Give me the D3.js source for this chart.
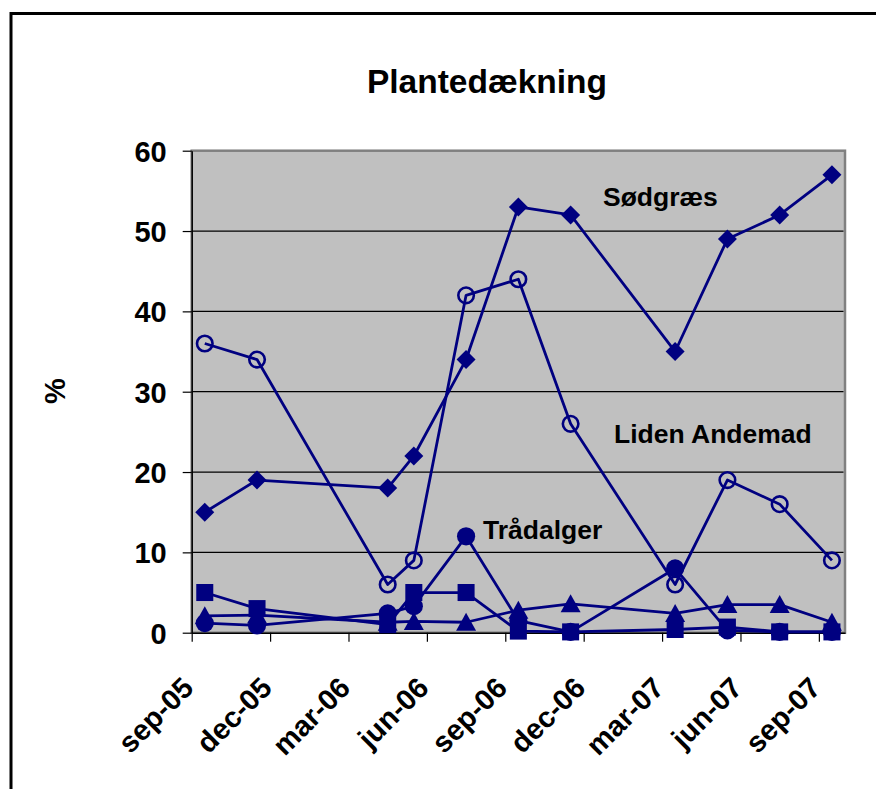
<!DOCTYPE html>
<html>
<head>
<meta charset="utf-8">
<script src="https://cdn.jsdelivr.net/npm/d3@7"></script>
<style>
  html, body { margin: 0; padding: 0; background: #fff; }
  svg { display: block; }
  text { font-family: "Liberation Sans", Arial, sans-serif; font-weight: bold; fill: #000; }
</style>
</head>
<body>
<script>
// Sampling months (one survey per month shown)
const sampleMonths = ["2005-09", "2005-11", "2006-04", "2006-05", "2006-07", "2006-09",
                      "2006-11", "2007-03", "2007-05", "2007-07", "2007-09"];

// Cover in percent per species
const sodgraes      = [15, 19, 18, 22, 34, 53, 52, 35, 49, 52, 57];
const lidenAndemad  = [36, 34, 6, 9, 42, 44, 26, 6, 19, 16, 9];
const tradalger     = [1.2, 0.9, 2.4, 3.3, 12, 1.5, 0.1, 8, 0.3, 0.1, 0.1];
const artFirkant    = [5, 3, 1, 5, 5, 0.2, 0.1, 0.4, 0.7, 0.1, 0.1];
const artTrekant    = [2.1, 2.2, 1.3, 1.4, 1.3, 2.8, 3.6, 2.4, 3.5, 3.5, 1.3];

// Axis ticks
const tickMonths = ["2005-09", "2005-12", "2006-03", "2006-06", "2006-09",
                    "2006-12", "2007-03", "2007-06", "2007-09"];
const tickLabels = ["sep-05", "dec-05", "mar-06", "jun-06", "sep-06",
                    "dec-06", "mar-07", "jun-07", "sep-07"];
const yTicks = [0, 10, 20, 30, 40, 50, 60];

// Series labels written inside the plot
const seriesLabels = ["Sødgræs", "Liden Andemad", "Trådalger"];

const W = 876, H = 789;
const navy = "#000080";
const fontFamily = "'Liberation Sans', Arial, sans-serif";

// Month index counted from the first month on the axis
const monthIndex = s => {
  const [yr, m] = s.split("-").map(Number);
  return (yr - 2005) * 12 + (m - 9);
};

const svg = d3.select("body").append("svg").attr("width", W).attr("height", H);

// chart frame
svg.append("rect")
  .attr("x", 11).attr("y", 13.5)
  .attr("width", W + 20).attr("height", H + 20)
  .attr("fill", "#fff").attr("stroke", "#000").attr("stroke-width", 3);

const plot = { left: 191.7, right: 845, top: 150.7, bottom: 632.7 };

const x = d3.scaleLinear().domain([0, 25]).range([plot.left, plot.right]);
const y = d3.scaleLinear().domain([0, 60]).range([plot.bottom, plot.top]);

// plot area
svg.append("rect")
  .attr("x", plot.left).attr("y", plot.top)
  .attr("width", plot.right - plot.left).attr("height", plot.bottom - plot.top)
  .attr("fill", "#c0c0c0").attr("stroke", "#808080").attr("stroke-width", 2.5);

// gridlines
svg.append("g")
  .selectAll("line")
  .data(yTicks.filter(d => d > 0 && d < 60))
  .join("line")
  .attr("x1", plot.left).attr("x2", plot.right - 1.5)
  .attr("y1", d => y(d)).attr("y2", d => y(d))
  .attr("stroke", "#000").attr("stroke-width", 1.2);

// y axis
const yAxis = svg.append("g")
  .attr("transform", `translate(${plot.left},0)`)
  .call(d3.axisLeft(y).tickValues(yTicks).tickSize(9).tickPadding(16).tickSizeOuter(0));
yAxis.select(".domain").attr("stroke", "#000").attr("stroke-width", 1.5);
yAxis.selectAll(".tick line").attr("stroke", "#000").attr("stroke-width", 1.2);
yAxis.selectAll(".tick text")
  .attr("font-size", 29).attr("font-family", fontFamily)
  .attr("font-weight", "bold").attr("fill", "#000").attr("dy", "0.36em");

// x axis
const xAxis = svg.append("g")
  .attr("transform", `translate(0,${plot.bottom})`)
  .call(d3.axisBottom(x)
    .tickValues(tickMonths.map(monthIndex))
    .tickFormat((d, i) => tickLabels[i])
    .tickSize(9).tickSizeOuter(0));
xAxis.select(".domain").attr("stroke", "#000").attr("stroke-width", 1.5);
xAxis.selectAll(".tick line").attr("stroke", "#000").attr("stroke-width", 1.2);
xAxis.selectAll(".tick text")
  .attr("font-size", 29).attr("font-family", fontFamily)
  .attr("font-weight", "bold").attr("fill", "#000")
  .attr("text-anchor", "end")
  .attr("x", 0).attr("y", 0).attr("dy", 0)
  .attr("transform", "translate(3,57) rotate(-45)");

// y axis title
svg.append("text")
  .attr("transform", "translate(65,391) rotate(-90)")
  .attr("text-anchor", "middle")
  .attr("font-size", 29)
  .text("%");

// title
svg.append("text")
  .attr("x", 487).attr("y", 93)
  .attr("text-anchor", "middle")
  .attr("font-size", 33.5)
  .text("Plantedækning");

// markers
const diamond = d3.symbol(d3.symbolSquare, 180)();
const square = d3.symbol(d3.symbolSquare, 290)();
const dot = d3.symbol(d3.symbolCircle, 260)();
const ring = d3.symbol(d3.symbolCircle, 190)();
const triangle = "M0,-9.5L10,8.5L-10,8.5Z";

const series = [
  { values: sodgraes,     shape: diamond,  rotate: 45, fill: navy,   stroke: "none", sw: 0 },
  { values: lidenAndemad, shape: ring,     rotate: 0,  fill: "none", stroke: navy,   sw: 2.6 },
  { values: tradalger,    shape: dot,      rotate: 0,  fill: navy,   stroke: "none", sw: 0 },
  { values: artFirkant,   shape: square,   rotate: 0,  fill: navy,   stroke: "none", sw: 0 },
  { values: artTrekant,   shape: triangle, rotate: 0,  fill: navy,   stroke: "none", sw: 0 }
];

const line = d3.line()
  .x((d, i) => x(monthIndex(sampleMonths[i]) + 0.5))
  .y(d => y(d));

const seriesG = svg.append("g");
series.forEach(s => {
  const g = seriesG.append("g");
  g.append("path")
    .attr("d", line(s.values))
    .attr("fill", "none").attr("stroke", navy).attr("stroke-width", 2.8)
    .attr("stroke-linejoin", "round");
  g.selectAll("path.mark")
    .data(s.values)
    .join("path")
    .attr("class", "mark")
    .attr("d", s.shape)
    .attr("transform", (d, i) =>
      `translate(${x(monthIndex(sampleMonths[i]) + 0.5)},${y(d)}) rotate(${s.rotate})`)
    .attr("fill", s.fill).attr("stroke", s.stroke).attr("stroke-width", s.sw);
});

// series labels
const labelPos = [[603, 206], [614, 443], [483, 539]];
svg.append("g")
  .selectAll("text")
  .data(seriesLabels)
  .join("text")
  .attr("x", (d, i) => labelPos[i][0])
  .attr("y", (d, i) => labelPos[i][1])
  .attr("font-size", 26.5)
  .text(d => d);
</script>
</body>
</html>
